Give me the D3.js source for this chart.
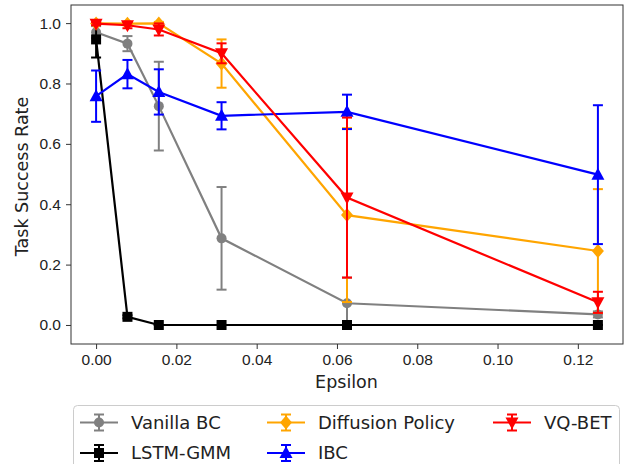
<!DOCTYPE html>
<html>
<head>
<meta charset="utf-8">
<script src="https://cdn.jsdelivr.net/npm/d3@7"></script>
<style>
  body { margin: 0; background: #fff; }
  svg { font-family: "DejaVu Sans", sans-serif; }
</style>
</head>
<body>
<div id="chart"></div>
<script>
// epsilon values (x)
var epsilons = [0, 1/128, 1/64, 1/32, 1/16, 1/8];

// mean success rates
var vanillaBC   = [0.970, 0.932, 0.725, 0.287, 0.072, 0.035];
var lstmGMM     = [0.946, 0.027, 0.000, 0.000, 0.000, 0.000];
var diffusion   = [0.999, 0.998, 0.999, 0.866, 0.364, 0.245];
var ibc         = [0.758, 0.831, 0.772, 0.693, 0.706, 0.498];
var vqbet       = [0.998, 0.993, 0.979, 0.900, 0.422, 0.075];

// error bar half-widths
var vanillaErr   = [0.020, 0.025, 0.147, 0.170, 0.085, 0.010];
var lstmErr      = [0.060, 0.005, 0.000, 0.000, 0.000, 0.000];
var diffusionErr = [0.005, 0.005, 0.005, 0.080, 0.288, 0.205];
var ibcErr       = [0.085, 0.047, 0.075, 0.045, 0.057, 0.230];
var vqbetErr     = [0.005, 0.010, 0.020, 0.033, 0.265, 0.035];

var xTicks = [0, 0.02, 0.04, 0.06, 0.08, 0.10, 0.12];
var yTicks = [0, 0.2, 0.4, 0.6, 0.8, 1.0];

var series = [
    {name: "Vanilla BC",       values: vanillaBC, err: vanillaErr,   color: "gray",   marker: "circle"},
    {name: "LSTM-GMM",         values: lstmGMM,   err: lstmErr,      color: "black",  marker: "square"},
    {name: "Diffusion Policy", values: diffusion, err: diffusionErr, color: "orange", marker: "diamond"},
    {name: "IBC",              values: ibc,       err: ibcErr,       color: "blue",   marker: "triUp"},
    {name: "VQ-BET",           values: vqbet,     err: vqbetErr,     color: "red",    marker: "triDown"}
];

var width = 626, height = 464;
var margins = {top: 5, right: 3, bottom: 120, left: 71};
var innerW = width - margins.left - margins.right,
    innerH = height - margins.top - margins.bottom;

var svg = d3.select("#chart").append("svg")
    .attr("width", width)
    .attr("height", height);

var main = svg.append("g")
    .attr("transform", "translate(" + margins.left + "," + margins.top + ")");

/* Scales */
var x = d3.scaleLinear().domain([-0.00625, 0.13125]).range([0, innerW]);
var y = d3.scaleLinear().domain([-0.063, 1.06]).range([innerH, 0]);

/* Axes */
var xAxis = d3.axisBottom(x).tickValues(xTicks).tickFormat(d3.format(".2f")).tickSize(5).tickPadding(5);
var yAxis = d3.axisLeft(y).tickValues(yTicks).tickFormat(d3.format(".1f")).tickSize(5).tickPadding(5);

var gx = main.append("g").attr("transform", "translate(0," + innerH + ")").call(xAxis);
var gy = main.append("g").call(yAxis);
[gx, gy].forEach(function(g){
    g.select(".domain").remove();
    g.selectAll("line").attr("stroke", "#333");
    g.selectAll("text").attr("font-size", "15.5px").attr("fill", "#222");
});

/* Marker shapes */
function markerPath(type){
    switch (type) {
        case "circle": return d3.symbol(d3.symbolCircle, Math.PI * 5 * 5)();
        case "square": return "M-5,-5L5,-5L5,5L-5,5Z";
        case "diamond": return "M0,-7L6,0L0,7L-6,0Z";
        case "triUp": return "M0,-7L6.5,5L-6.5,5Z";
        case "triDown": return "M0,7L6.5,-5L-6.5,-5Z";
    }
}

/* Series */
var line = d3.line()
    .x(function(d){ return x(d.x); })
    .y(function(d){ return y(d.y); });

series.forEach(function(s){
    var pts = epsilons.map(function(e, i){ return {x: e, y: s.values[i], err: s.err[i]}; });
    var g = main.append("g");

    // error bars
    var eb = g.selectAll(".eb").data(pts).enter().append("g")
        .attr("stroke", s.color).attr("stroke-width", 2);
    eb.append("line")
        .attr("x1", function(d){ return x(d.x); }).attr("x2", function(d){ return x(d.x); })
        .attr("y1", function(d){ return y(d.y - d.err); }).attr("y2", function(d){ return y(d.y + d.err); });
    eb.append("line")
        .attr("x1", function(d){ return x(d.x) - 5; }).attr("x2", function(d){ return x(d.x) + 5; })
        .attr("y1", function(d){ return y(d.y - d.err); }).attr("y2", function(d){ return y(d.y - d.err); });
    eb.append("line")
        .attr("x1", function(d){ return x(d.x) - 5; }).attr("x2", function(d){ return x(d.x) + 5; })
        .attr("y1", function(d){ return y(d.y + d.err); }).attr("y2", function(d){ return y(d.y + d.err); });

    g.append("path")
        .datum(pts)
        .attr("fill", "none")
        .attr("stroke", s.color)
        .attr("stroke-width", 2.2)
        .attr("d", line);

    g.selectAll(".mk").data(pts).enter().append("path")
        .attr("d", markerPath(s.marker))
        .attr("fill", s.color)
        .attr("transform", function(d){ return "translate(" + x(d.x) + "," + y(d.y) + ")"; });
});

/* Frame */
main.append("rect")
    .attr("width", innerW).attr("height", innerH)
    .attr("fill", "none").attr("stroke", "#333").attr("stroke-width", 1);

/* Axis labels */
svg.append("text")
    .attr("x", margins.left + x(0.0625) - 0.5).attr("y", 388)
    .attr("text-anchor", "middle").attr("font-size", "17.5px").attr("fill", "#222")
    .text("Epsilon");
svg.append("text")
    .attr("transform", "translate(28," + (margins.top + innerH / 2 + 2) + ") rotate(-90)")
    .attr("text-anchor", "middle").attr("font-size", "17.5px").attr("fill", "#222")
    .text("Task Success Rate");

/* Legend */
var legend = svg.append("g");
legend.append("rect")
    .attr("x", 73.5).attr("y", 405.5).attr("width", 546).attr("height", 70).attr("rx", 4)
    .attr("fill", "#fff").attr("stroke", "#ccc").attr("stroke-width", 1);

var legendPos = [
    {hx: 80,  ty: 422.5}, {hx: 80,  ty: 453},
    {hx: 267, ty: 422.5}, {hx: 267, ty: 453},
    {hx: 493, ty: 422.5}
];
series.forEach(function(s, i){
    var p = legendPos[i];
    var g = legend.append("g").attr("transform", "translate(" + p.hx + "," + p.ty + ")");
    g.append("line").attr("x1", 0).attr("x2", 38).attr("stroke", s.color).attr("stroke-width", 2.2);
    g.append("line").attr("x1", 19).attr("x2", 19).attr("y1", -8).attr("y2", 8).attr("stroke", s.color).attr("stroke-width", 2);
    g.append("line").attr("x1", 14).attr("x2", 24).attr("y1", -8).attr("y2", -8).attr("stroke", s.color).attr("stroke-width", 2);
    g.append("line").attr("x1", 14).attr("x2", 24).attr("y1", 8).attr("y2", 8).attr("stroke", s.color).attr("stroke-width", 2);
    g.append("path").attr("d", markerPath(s.marker)).attr("fill", s.color).attr("transform", "translate(19,0)");
    g.append("text").attr("x", 51).attr("y", 0).attr("dy", "0.35em")
        .attr("font-size", "18px").attr("fill", "#222").text(s.name);
});
</script>
</body>
</html>
